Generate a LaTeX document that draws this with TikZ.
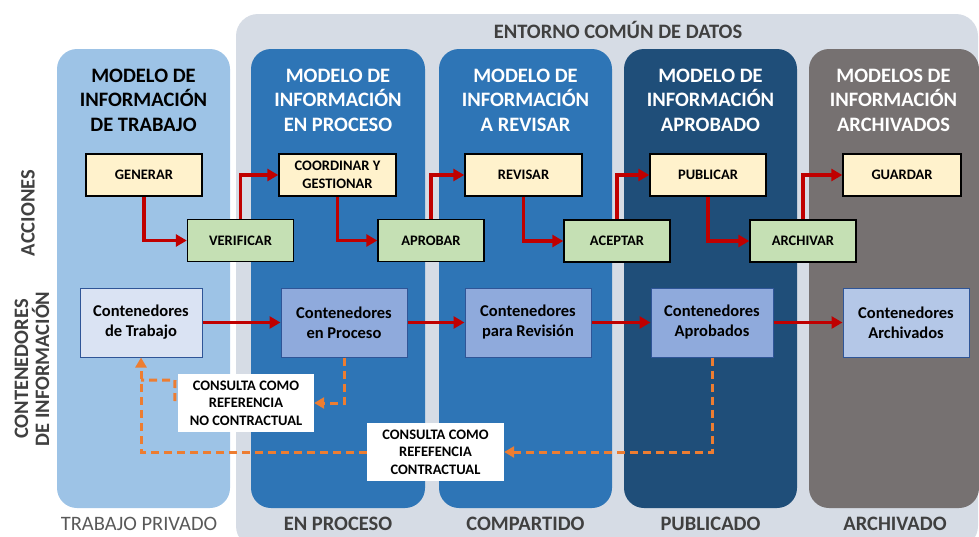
\documentclass[tikz,border=0pt]{standalone}
\usepackage{fontspec}
\setmainfont{Carlito}
\usetikzlibrary{arrows.meta}
\definecolor{outerg}{HTML}{D6DCE5}
\definecolor{cola}{HTML}{9DC3E6}
\definecolor{colb}{HTML}{2E75B6}
\definecolor{colc}{HTML}{1F4E79}
\definecolor{cold}{HTML}{767171}
\definecolor{yel}{HTML}{FFF2CC}
\definecolor{grn}{HTML}{C5E0B4}
\definecolor{redarr}{HTML}{C00000}
\definecolor{orarr}{HTML}{ED7D31}
\definecolor{contA}{HTML}{DAE3F3}
\definecolor{contB}{HTML}{8FAADC}
\definecolor{contC}{HTML}{B4C7E7}
\definecolor{contbd}{HTML}{2F5597}
\definecolor{labg}{HTML}{404040}
\definecolor{labl}{HTML}{595959}
\tikzset{
  colbox/.style={rounded corners=20pt},
  titletxt/.style={align=center,font=\fontsize{20.5}{24.5}\selectfont\bfseries},
  actbox/.style={draw=black,line width=1.4pt,fill=yel,minimum height=42pt,align=center,inner sep=1pt,font=\fontsize{14.5}{17.5}\selectfont\bfseries},
  chkbox/.style={draw=black,line width=1.4pt,fill=grn,minimum width=106pt,minimum height=42pt,align=center,inner sep=1pt,font=\fontsize{14.5}{17.5}\selectfont\bfseries},
  contbox/.style={draw=contbd,line width=1pt,minimum height=69pt,align=center,inner sep=1pt,font=\fontsize{16.5}{20}\selectfont\bfseries},
  notebox/.style={fill=white,minimum width=137pt,minimum height=58pt,align=center,inner sep=1pt,font=\fontsize{14.5}{17.5}\selectfont\bfseries},
  redflow/.style={draw=redarr,line width=3.2pt,-{Triangle[length=11pt,width=12pt]}},
  orflow/.style={draw=orarr,line width=3pt,dash pattern=on 8pt off 5pt},
  ortip/.style={-{Triangle[length=10pt,width=11pt]}},
  botlab/.style={font=\fontsize{20.5}{24}\selectfont\bfseries,text=labg},
}
\begin{document}
\begin{tikzpicture}[x=1pt,y=-1pt]
\useasboundingbox (0,0) rectangle (979,536);
\begin{scope}
\clip (0,0) rectangle (979,536);
% outer common data environment
\fill[outerg,rounded corners=22pt] (236,14) rectangle (978,548);
% columns
\fill[cola,colbox] (57,49) rectangle (230,508);
\fill[colb,colbox] (251,49) rectangle (425,508);
\fill[colb,colbox] (439,49) rectangle (612,508);
\fill[colc,colbox] (624,49) rectangle (797,508);
\fill[cold,colbox] (809,49) rectangle (979,508);
\end{scope}

% top label
\node[font=\fontsize{20.5}{24}\selectfont\bfseries,text=labg] (entorno) at (618,30) {ENTORNO COMÚN DE DATOS};

% column titles
\node[titletxt,text=black] (t1) at (143.5,100) {MODELO DE\\INFORMACIÓN\\DE TRABAJO};
\node[titletxt,text=white] (t2) at (338,100) {MODELO DE\\INFORMACIÓN\\EN PROCESO};
\node[titletxt,text=white] (t3) at (525.5,100) {MODELO DE\\INFORMACIÓN\\A REVISAR};
\node[titletxt,text=white] (t4) at (710.5,100) {MODELO DE\\INFORMACIÓN\\APROBADO};
\node[titletxt,text=white] (t5) at (893.5,100) {MODELOS DE\\INFORMACIÓN\\ARCHIVADOS};

% row labels
\node[font=\fontsize{20.5}{24}\selectfont\bfseries,text=labg,rotate=90] (racc) at (28,213) {ACCIONES};
\node[font=\fontsize{20.5}{21}\selectfont\bfseries,text=labg,rotate=90,align=center] (rcont) at (32,369) {CONTENEDORES\\DE INFORMACIÓN};

% bottom labels
\node[font=\fontsize{20.5}{24}\selectfont,text=labl] (b1) at (139,524) {TRABAJO PRIVADO};
\node[botlab] (b2) at (338,524) {EN PROCESO};
\node[botlab] (b3) at (525.5,524) {COMPARTIDO};
\node[botlab] (b4) at (710.5,524) {PUBLICADO};
\node[botlab] (b5) at (895,524) {ARCHIVADO};

% action boxes
\node[actbox,minimum width=116pt] (gen) at (144,175) {GENERAR};
\node[actbox,minimum width=117pt] (coord) at (337.5,175) {COORDINAR Y\\GESTIONAR};
\node[actbox,minimum width=117pt] (rev) at (523.5,175) {REVISAR};
\node[actbox,minimum width=116pt] (pub) at (708,175) {PUBLICAR};
\node[actbox,minimum width=118pt] (guar) at (902,175) {GUARDAR};

\node[chkbox] (ver) at (240.5,240.5) {VERIFICAR};
\node[chkbox] (apr) at (431,240.5) {APROBAR};
\node[chkbox] (acep) at (617,241) {ACEPTAR};
\node[chkbox] (arch) at (803,241) {ARCHIVAR};

\draw[redflow] (gen.south) |- (ver.west);
\draw[redflow] (ver.north) |- (coord.west);
\draw[redflow] (coord.south) |- (apr.west);
\draw[redflow] (apr.north) |- (rev.west);
\draw[redflow] (rev.south) |- (acep.west);
\draw[redflow] (acep.north) |- (pub.west);
\draw[redflow] (pub.south) |- (arch.west);
\draw[redflow] (arch.north) |- (guar.west);

% containers
\node[contbox,fill=contA,minimum width=122pt] (ctrab) at (141,322.5) {Contenedores\\de Trabajo};
\node[contbox,fill=contB,minimum width=126pt] (cproc) at (344,322.5) {Contenedores\\en Proceso};
\node[contbox,fill=contB,minimum width=126pt] (crev) at (528,322.5) {Contenedores\\para Revisión};
\node[contbox,fill=contB,minimum width=122pt] (caprob) at (712,322.5) {Contenedores\\Aprobados};
\node[contbox,fill=contC,minimum width=126pt] (carch) at (906,322.5) {Contenedores\\Archivados};

\draw[redflow] (ctrab.east) -- (cproc.west);
\draw[redflow] (cproc.east) -- (crev.west);
\draw[redflow] (crev.east) -- (caprob.west);
\draw[redflow] (caprob.east) -- (carch.west);

% consultation notes
\node[notebox,minimum width=136pt] (nc) at (246,403) {CONSULTA COMO\\REFERENCIA\\NO CONTRACTUAL};
\node[notebox] (ct) at (435.5,452) {CONSULTA COMO\\REFEFENCIA\\CONTRACTUAL};

\coordinate (ncbend) at (175,380);
\draw[orflow,ortip] (cproc.south) |- (nc.east);
\draw[orflow] (nc.west) ++(-3,-2) -- (ncbend) -- (ctrab.south |- ncbend);
\draw[orflow,ortip] (caprob.south) |- (ct.east);
\draw[orflow,ortip] (ct.west) -| (ctrab.south);
\end{tikzpicture}
\end{document}
